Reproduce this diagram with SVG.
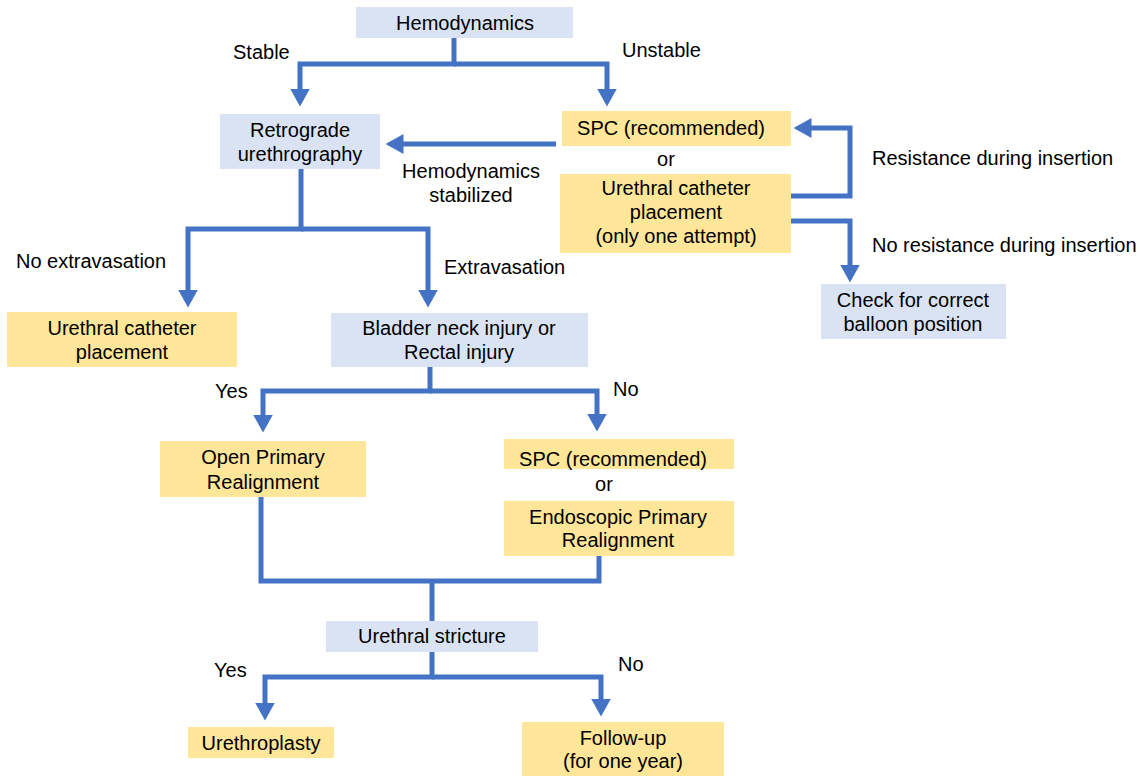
<svg xmlns="http://www.w3.org/2000/svg" width="1145" height="776" viewBox="0 0 1145 776">
  <style>
    .blue { fill: #DAE3F3; }
    .yellow { fill: #FFE699; }
    text { font-family: "Liberation Sans", Arial, sans-serif; font-size: 20px; fill: #000; }
    .c { text-anchor: middle; }
    .conn path { fill: none; stroke: #4472C4; stroke-width: 5; stroke-linejoin: miter; stroke-linecap: butt; }
    .arrow { marker-end: url(#head); }
  </style>
  <defs>
    <marker id="head" viewBox="0 0 18 20" markerWidth="18" markerHeight="20" refX="0.5" refY="10" orient="auto" markerUnits="userSpaceOnUse">
      <path d="M0,0 L18,10 L0,20 z" fill="#4472C4"/>
    </marker>
  </defs>

  <rect width="1145" height="776" fill="#fff"/>

  <!-- connectors -->
  <g id="connectors" class="conn">
    <path class="arrow" d="M454,38 V64 H300 V89"/>
    <path class="arrow" d="M454,64 H607 V89"/>
    <path class="arrow" d="M556,144 H403"/>
    <path class="arrow" d="M301,169 V229 H188 V290"/>
    <path class="arrow" d="M301,229 H428 V290"/>
    <path class="arrow" d="M791,196 H850 V128 H811"/>
    <path class="arrow" d="M791,221 H850 V265"/>
    <path class="arrow" d="M430,367 V391 H263 V415"/>
    <path class="arrow" d="M430,391 H597 V414"/>
    <path d="M261,497 V581 H599 V556"/>
    <path d="M432,581 V621"/>
    <path class="arrow" d="M432,652 V677 H265 V703"/>
    <path class="arrow" d="M432,677 H601 V699"/>
  </g>

  <!-- edge labels -->
  <g id="labels">
    <text x="233" y="59">Stable</text>
    <text x="622" y="57">Unstable</text>
    <text class="c" x="471" y="178">Hemodynamics</text>
    <text class="c" x="471" y="202">stabilized</text>
    <text x="872" y="165">Resistance during insertion</text>
    <text x="872" y="252">No resistance during insertion</text>
    <text x="16" y="268">No extravasation</text>
    <text x="444" y="274">Extravasation</text>
    <text x="215" y="398">Yes</text>
    <text x="613" y="396">No</text>
    <text x="214" y="677">Yes</text>
    <text x="618" y="671">No</text>
  </g>

  <g id="hemodynamics">
    <rect class="blue" x="356" y="7" width="217" height="31"/>
    <text class="c" x="465" y="30">Hemodynamics</text>
  </g>

  <g id="retrograde">
    <rect class="blue" x="220" y="114" width="160" height="55"/>
    <text class="c" x="300" y="137">Retrograde</text>
    <text class="c" x="300" y="161">urethrography</text>
  </g>

  <g id="spc-top">
    <rect class="yellow" x="562" y="111" width="229" height="35"/>
    <text class="c" x="671" y="135">SPC (recommended)</text>
  </g>

  <g id="or-top">
    <text class="c" x="666" y="166">or</text>
  </g>

  <g id="catheter-attempt">
    <rect class="yellow" x="560" y="174" width="231" height="79"/>
    <text class="c" x="676" y="195">Urethral catheter</text>
    <text class="c" x="676" y="219">placement</text>
    <text class="c" x="676" y="243">(only one attempt)</text>
  </g>

  <g id="check-balloon">
    <rect class="blue" x="821" y="284" width="185" height="55"/>
    <text class="c" x="913" y="307">Check for correct</text>
    <text class="c" x="913" y="331">balloon position</text>
  </g>

  <g id="catheter-placement">
    <rect class="yellow" x="7" y="312" width="230" height="55"/>
    <text class="c" x="122" y="335">Urethral catheter</text>
    <text class="c" x="122" y="359">placement</text>
  </g>

  <g id="bladder-rectal">
    <rect class="blue" x="331" y="313" width="257" height="54"/>
    <text class="c" x="459" y="335">Bladder neck injury or</text>
    <text class="c" x="459" y="359">Rectal injury</text>
  </g>

  <g id="open-realignment">
    <rect class="yellow" x="160" y="441" width="206" height="56"/>
    <text class="c" x="263" y="464">Open Primary</text>
    <text class="c" x="263" y="489">Realignment</text>
  </g>

  <g id="spc-bottom">
    <rect class="yellow" x="504" y="439" width="230" height="30"/>
    <text class="c" x="613" y="466">SPC (recommended)</text>
  </g>

  <g id="or-bottom">
    <text class="c" x="604" y="491">or</text>
  </g>

  <g id="endoscopic-realignment">
    <rect class="yellow" x="504" y="501" width="230" height="55"/>
    <text class="c" x="618" y="524">Endoscopic Primary</text>
    <text class="c" x="618" y="547">Realignment</text>
  </g>

  <g id="stricture">
    <rect class="blue" x="326" y="621" width="212" height="31"/>
    <text class="c" x="432" y="643">Urethral stricture</text>
  </g>

  <g id="urethroplasty">
    <rect class="yellow" x="188" y="727" width="146" height="31"/>
    <text class="c" x="261" y="750">Urethroplasty</text>
  </g>

  <g id="follow-up">
    <rect class="yellow" x="522" y="722" width="202" height="54"/>
    <text class="c" x="623" y="745">Follow-up</text>
    <text class="c" x="623" y="768">(for one year)</text>
  </g>
</svg>
